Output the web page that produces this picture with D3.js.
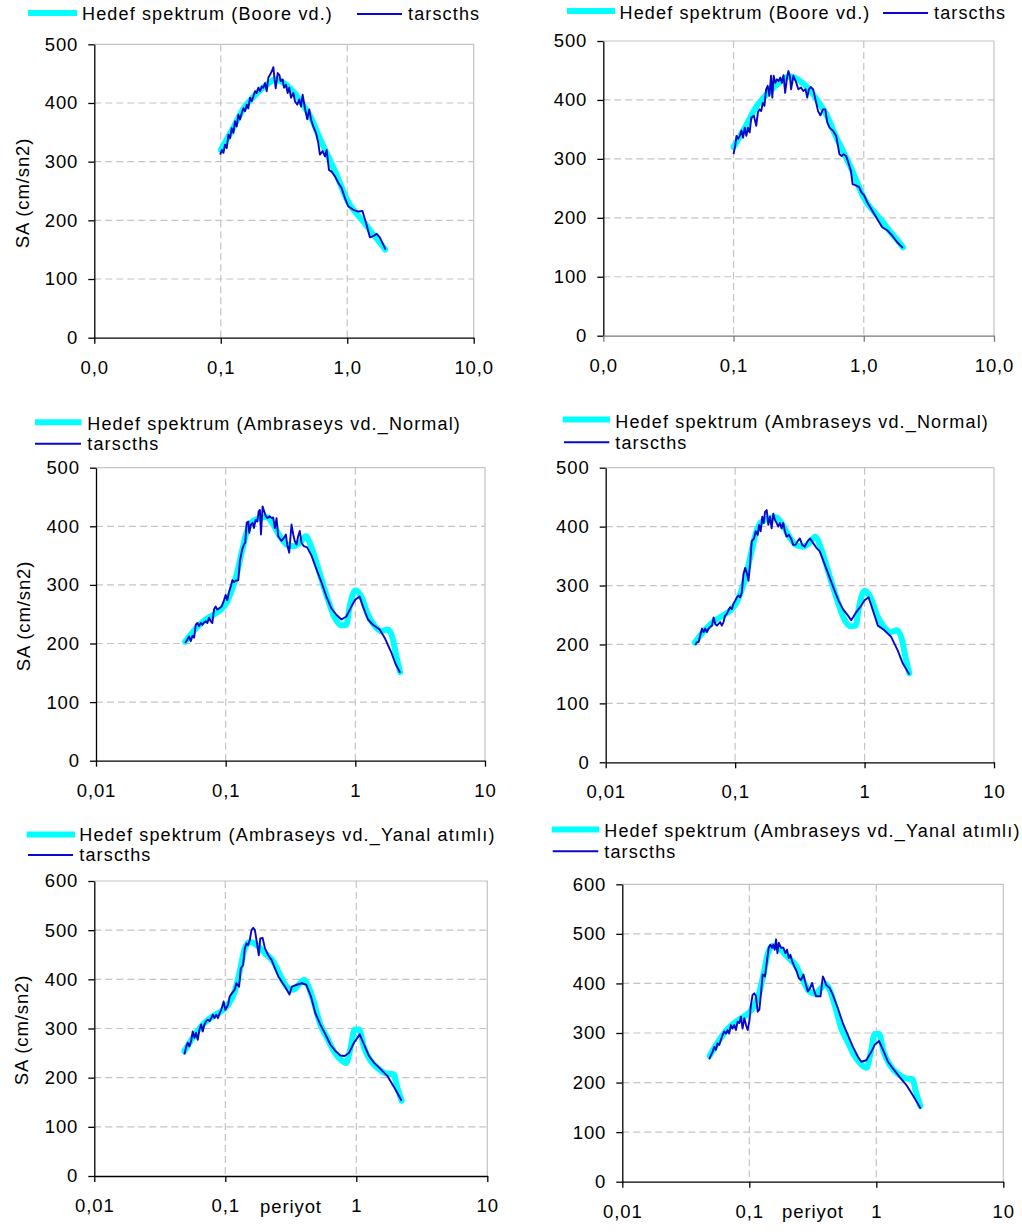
<!DOCTYPE html>
<html>
<head>
<meta charset="utf-8">
<script src="https://cdn.jsdelivr.net/npm/d3@7"></script>
<style>
  html, body { margin: 0; padding: 0; background: #fff; }
  svg text { font-family: "Liberation Sans", Arial, sans-serif; fill: #000; }
</style>
</head>
<body>
<svg id="chart" width="1022" height="1232"></svg>
<script>
// ---- Tick labels ----
const xTickValues = [0.01, 0.1, 1, 10];
const xLabelsDecimal = ["0,0", "0,1", "1,0", "10,0"];
const xLabelsPlain = ["0,01", "0,1", "1", "10"];
const yTicks500 = [0, 100, 200, 300, 400, 500];
const yTicks600 = [0, 100, 200, 300, 400, 500, 600];

// ---- Series names ----
const targetBoore = "Hedef spektrum (Boore vd.)";
const targetNormal = "Hedef spektrum (Ambraseys vd._Normal)";
const targetYanal = "Hedef spektrum (Ambraseys vd._Yanal atımlı)";
const recordName = "tarscths";

// ---- Target spectra (period s, SA cm/sn2) ----
const booreT = [0.1, 0.12, 0.15, 0.19, 0.23, 0.27, 0.32, 0.38, 0.45, 0.52, 0.6, 0.7, 0.8, 0.9, 1.0, 1.2, 1.4, 1.6, 1.8, 2.0];
const booreSA = [320, 350, 389, 415, 431, 440, 433, 418, 396, 374, 342, 311, 284, 257, 234, 210, 193, 176, 163, 150];

const normalT = [0.0487, 0.0564, 0.0673, 0.0804, 0.0931, 0.1018, 0.1112, 0.1216, 0.1328, 0.1452, 0.1585, 0.1837, 0.2066, 0.2326, 0.2618, 0.2945, 0.332, 0.3733, 0.415, 0.459, 0.532, 0.617, 0.693, 0.78, 0.853, 0.904, 1.0, 1.112, 1.251, 1.408, 1.585, 1.783, 1.95, 2.067, 2.218];
const normalSA = [203, 221, 238, 249, 259, 270, 290, 318, 355, 390, 407, 414, 416, 403, 383, 369, 366, 372, 383, 364, 319, 274, 244, 231, 232, 263, 291, 280, 249, 230, 221, 224, 207, 179, 151];

const yanalT = [0.0487, 0.0564, 0.0673, 0.0804, 0.0931, 0.105, 0.118, 0.1288, 0.1409, 0.1538, 0.173, 0.2008, 0.2326, 0.2618, 0.2945, 0.332, 0.3625, 0.401, 0.4325, 0.472, 0.532, 0.598, 0.673, 0.757, 0.837, 0.904, 0.971, 1.049, 1.146, 1.289, 1.494, 1.731, 1.927, 2.043, 2.218];
const yanalSA = [254, 281, 308, 325, 335, 348, 375, 416, 463, 476, 470, 453, 436, 409, 385, 379, 389, 399, 385, 355, 308, 281, 254, 237, 230, 261, 298, 298, 261, 234, 217, 208, 207, 183, 153];

// ---- Record spectra (tarscths) ----
const rec1T = [0.099,0.102,0.105,0.108,0.1115,0.115,0.1185,0.122,0.126,0.1297,0.1337,0.1377,0.142,0.1465,0.151,0.1556,0.1604,0.165,0.1705,0.1757,0.181,0.1866,0.1923,0.198,0.2045,0.211,0.217,0.224,0.231,0.2377,0.245,0.253,0.2606,0.2654,0.2718,0.2818,0.2904,0.2977,0.3085,0.316,0.328,0.338,0.348,0.359,0.375,0.386,0.403,0.418,0.431,0.444,0.463,0.483,0.501,0.517,0.539,0.566,0.59,0.608,0.638,0.667,0.687,0.717,0.752,0.8,0.849,0.902,0.959,1.018,1.115,1.22,1.32,1.42,1.51,1.6,1.71,1.81,2.01];
const rec1SA = [312,320,315,329,323,346,340,357,349,369,360,380,372,383,391,386,397,391,409,403,411,420,417,426,420,428,426,434,420,443,448,454,461,443,425,451,448,437,440,426,431,417,426,409,417,403,397,406,394,414,391,372,389,372,360,349,332,312,318,309,320,286,283,275,264,255,238,224,218,215,216,193,171,173,177,171,150];

const rec2T = [0.1,0.1029,0.1054,0.1085,0.1117,0.115,0.1184,0.1219,0.1254,0.1291,0.133,0.1369,0.1434,0.1494,0.1538,0.1583,0.163,0.1678,0.1727,0.1778,0.183,0.1885,0.194,0.1986,0.2033,0.2093,0.2154,0.2218,0.2284,0.235,0.2419,0.2491,0.2564,0.264,0.2718,0.2766,0.2881,0.3001,0.3144,0.3294,0.3431,0.3573,0.3679,0.3788,0.3922,0.4083,0.4253,0.4457,0.4642,0.4863,0.5065,0.5244,0.5462,0.579,0.6137,0.6502,0.6773,0.7014,0.7305,0.7608,0.797,0.8206,0.8697,0.9218,0.96,1.006,1.066,1.163,1.269,1.385,1.511,1.649,1.799,1.998];
const rec2SA = [308,322,339,334,339,348,336,353,339,353,345,370,373,356,379,384,381,395,390,418,424,407,441,404,441,429,435,432,438,429,442,412,435,449,439,418,441,432,418,421,415,418,404,418,422,418,401,381,374,384,384,362,353,348,339,308,305,308,305,294,280,257,255,252,243,238,226,212,198,184,179,170,159,149];

const rec3T = [0.0487,0.0507,0.0522,0.0538,0.0555,0.0571,0.0588,0.0605,0.0624,0.0643,0.0662,0.0682,0.0702,0.0723,0.0744,0.0767,0.0789,0.0813,0.0837,0.0862,0.0893,0.0931,0.0971,0.1,0.103,0.1061,0.1093,0.1126,0.1159,0.1194,0.1251,0.1288,0.1343,0.1383,0.1416,0.1452,0.1495,0.1521,0.1567,0.1614,0.1652,0.1702,0.1754,0.1795,0.1837,0.1871,0.1927,0.1984,0.2043,0.2104,0.2192,0.2258,0.2326,0.2396,0.2468,0.2541,0.2697,0.2811,0.2913,0.298,0.309,0.322,0.332,0.341,0.352,0.362,0.373,0.384,0.401,0.425,0.459,0.501,0.547,0.598,0.653,0.714,0.78,0.853,0.932,1.0,1.079,1.146,1.251,1.368,1.539,1.682,1.892,2.043,2.218];
const rec3SA = [201,207,212,204,213,210,232,235,230,235,232,236,238,235,244,238,235,258,263,258,260,263,274,283,274,288,297,308,305,307,308,341,361,369,372,406,408,389,403,406,397,411,408,425,428,386,434,425,417,414,417,414,415,397,414,383,375,380,386,369,355,403,386,375,369,383,392,372,366,364,350,327,305,280,260,249,241,246,263,275,280,263,241,232,224,210,185,165,150];

const rec4T = [0.0492,0.0507,0.0522,0.0538,0.0555,0.0571,0.0588,0.0605,0.0624,0.0643,0.0662,0.0682,0.0702,0.0723,0.0744,0.0767,0.0789,0.0813,0.0837,0.0862,0.0888,0.0915,0.0943,0.0971,0.1,0.103,0.1061,0.1093,0.1126,0.1159,0.1194,0.123,0.1268,0.1304,0.1343,0.14,0.1442,0.1494,0.1531,0.1575,0.1622,0.1663,0.1702,0.1754,0.1805,0.1859,0.1914,0.1972,0.2031,0.2093,0.2154,0.2218,0.2285,0.2355,0.2426,0.2495,0.2602,0.27,0.2811,0.293,0.3034,0.3162,0.3296,0.3452,0.3622,0.3793,0.4009,0.4246,0.4508,0.4921,0.5383,0.5875,0.631,0.681,0.745,0.789,0.863,0.943,1.0,1.074,1.159,1.267,1.426,1.604,1.803,1.972,2.218];
const rec4SA = [199,204,204,216,227,221,227,221,227,230,232,246,235,232,235,238,232,238,249,252,258,263,260,269,274,280,283,280,288,319,330,322,308,336,375,380,392,386,403,392,417,406,425,428,403,417,397,422,411,406,400,406,397,406,392,383,386,380,369,369,375,380,369,366,375,380,372,364,358,336,313,291,274,260,249,241,255,266,275,280,258,232,224,213,190,168,149];

const rec5T = [0.0487,0.0501,0.0516,0.0532,0.0548,0.0564,0.0581,0.0598,0.0616,0.0635,0.0654,0.0673,0.0693,0.0714,0.0736,0.0758,0.078,0.0804,0.0828,0.0853,0.0879,0.0905,0.0932,0.0971,0.1,0.105,0.108,0.1125,0.118,0.1216,0.1274,0.1312,0.1367,0.1409,0.1452,0.1495,0.1538,0.1585,0.1633,0.1683,0.173,0.1803,0.1848,0.1927,0.2008,0.2129,0.2258,0.2396,0.2541,0.2697,0.2858,0.309,0.322,0.3516,0.3842,0.415,0.451,0.487,0.532,0.581,0.635,0.694,0.757,0.813,0.878,0.96,1.062,1.146,1.251,1.368,1.539,1.731,1.95,2.218];
const rec5SA = [247,261,271,264,274,294,281,291,277,298,308,294,308,315,318,315,321,328,321,328,321,331,338,355,338,348,365,372,379,392,385,422,429,463,473,470,480,500,505,500,480,449,483,484,463,449,439,422,406,395,385,369,385,389,392,389,365,331,308,288,267,254,245,244,250,271,288,267,244,230,217,203,180,153];

const rec6T = [0.0483,0.0498,0.0514,0.053,0.0546,0.0562,0.058,0.0597,0.0616,0.0635,0.0654,0.0675,0.0695,0.0716,0.0738,0.0761,0.0785,0.0809,0.0834,0.0859,0.0885,0.0914,0.0942,0.0971,0.1,0.103,0.1062,0.1094,0.1129,0.1164,0.12,0.1236,0.1274,0.1329,0.1377,0.1422,0.1466,0.151,0.1546,0.1585,0.1624,0.1665,0.1706,0.1778,0.1855,0.1924,0.1983,0.2045,0.2107,0.2172,0.2266,0.2364,0.245,0.2557,0.2668,0.2768,0.289,0.3015,0.3126,0.3222,0.336,0.3505,0.3637,0.3793,0.3908,0.4027,0.4281,0.455,0.4977,0.5452,0.5964,0.6546,0.7168,0.7616,0.8337,0.9137,0.9704,1.0496,1.13,1.236,1.355,1.528,1.726,1.945,2.239];
const rec6SA = [247,255,262,272,266,279,276,286,296,303,299,306,299,316,309,316,306,323,320,333,309,330,316,306,323,357,377,380,374,343,347,380,418,414,445,472,478,472,478,468,489,461,482,472,472,461,468,451,458,445,434,424,411,407,418,401,384,391,401,387,374,374,374,414,407,397,391,377,350,320,296,272,252,242,245,262,276,284,266,242,228,211,195,174,147];

// ---- Styling ----
const TARGET_COLOR = "#00FFFF";
const RECORD_COLOR = "#0808CC";
const GRID_COLOR = "#C4C4C4";
const FONT_SIZE = "18.5px";
const LETTER_SP = "0.9px";
const LEGEND_FONT_SIZE = "18px";
const LEGEND_LETTER_SP = "1.15px";

const svg = d3.select("#chart");

const pairs = (xs, ys) => d3.zip(xs, ys);

// Panel layout: plot rectangle, axis titles, legend placement
const panels = [
  { left: 94.3, right: 473.7, top: 44.3, bottom: 337.7, yTicks: yTicks500, xLabels: xLabelsDecimal,
    target: pairs(booreT, booreSA), record: pairs(rec1T, rec1SA), targetName: targetBoore,
    yTitle: { x: 22, y: 193 }, xTitle: null, xAxisColor: "#000",
    legend: { l1: [28, 77, 13], t1: [82, 20], l2: [357, 402, 14], t2: [408, 20] } },
  { left: 603.3, right: 994, top: 41, bottom: 335.7, yTicks: yTicks500, xLabels: xLabelsDecimal,
    target: pairs(booreT, booreSA), record: pairs(rec2T, rec2SA), targetName: targetBoore,
    yTitle: null, xTitle: null, xAxisColor: "#7a7a7a",
    legend: { l1: [567, 615, 11], t1: [619.5, 19], l2: [883, 928, 13], t2: [934, 19] } },
  { left: 96, right: 485, top: 467.7, bottom: 760.7, yTicks: yTicks500, xLabels: xLabelsPlain,
    target: pairs(normalT, normalSA), record: pairs(rec3T, rec3SA), targetName: targetNormal,
    yTitle: { x: 23, y: 616 }, xTitle: null, xAxisColor: "#000",
    legend: { l1: [35, 81.5, 422.2], t1: [87.3, 429.5], l2: [35, 81, 443.8], t2: [87.3, 450.3] } },
  { left: 605.7, right: 994, top: 467.7, bottom: 762.3, yTicks: yTicks500, xLabels: xLabelsPlain,
    target: pairs(normalT, normalSA), record: pairs(rec4T, rec4SA), targetName: targetNormal,
    yTitle: null, xTitle: null, xAxisColor: "#000",
    legend: { l1: [562.7, 610, 419.5], t1: [615.3, 427.8], l2: [564, 609.3, 442.2], t2: [615.3, 448.5] } },
  { left: 94.3, right: 487.3, top: 881, bottom: 1176, yTicks: yTicks600, xLabels: xLabelsPlain,
    target: pairs(yanalT, yanalSA), record: pairs(rec5T, rec5SA), targetName: targetYanal,
    yTitle: { x: 21, y: 1030 }, xTitle: { x: 291, y: 1213 }, xAxisColor: "#000",
    legend: { l1: [26.7, 75, 834.5], t1: [79.3, 841.2], l2: [28, 73, 855], t2: [79.3, 861.3] } },
  { left: 622.3, right: 1003.3, top: 884.3, bottom: 1181.7, yTicks: yTicks600, xLabels: xLabelsPlain,
    target: pairs(yanalT, yanalSA), record: pairs(rec6T, rec6SA), targetName: targetYanal,
    yTitle: null, xTitle: { x: 813, y: 1218 }, xAxisColor: "#000",
    legend: { l1: [551.7, 599.3, 829.5], t1: [604.3, 837.2], l2: [552.7, 598.3, 851.3], t2: [604.3, 857.8] } }
];

function styleText(sel) {
  sel.style("font-size", FONT_SIZE).style("letter-spacing", LETTER_SP).attr("fill", "#000");
}
function styleLegendText(sel) {
  sel.style("font-size", LEGEND_FONT_SIZE).style("letter-spacing", LEGEND_LETTER_SP).attr("fill", "#000");
}

function drawPanel(p) {
  const g = svg.append("g");
  const yMax = d3.max(p.yTicks);
  const x = d3.scaleLog().domain([0.01, 10]).range([p.left, p.right]);
  const y = d3.scaleLinear().domain([0, yMax]).range([p.bottom, p.top]);

  // dashed grid
  const grid = g.append("g");
  grid.selectAll("line.h").data(p.yTicks.filter(v => v > 0 && v < yMax)).join("line")
    .attr("x1", p.left).attr("x2", p.right)
    .attr("y1", d => y(d)).attr("y2", d => y(d))
    .attr("stroke", GRID_COLOR).attr("stroke-width", 1.2).attr("stroke-dasharray", "7,4");
  grid.selectAll("line.v").data(xTickValues.filter(v => v > 0.01 && v < 10)).join("line")
    .attr("x1", d => x(d)).attr("x2", d => x(d))
    .attr("y1", p.top).attr("y2", p.bottom)
    .attr("stroke", GRID_COLOR).attr("stroke-width", 1.2).attr("stroke-dasharray", "7,4");

  // plot area frame (top and right)
  g.append("path")
    .attr("d", `M${p.left},${y(yMax)}H${x(10)}V${p.bottom}`)
    .attr("fill", "none").attr("stroke", GRID_COLOR).attr("stroke-width", 1.2);

  // series: smooth target spectrum under the record spectrum
  g.append("path").datum(p.target)
    .attr("d", d3.line().x(d => x(d[0])).y(d => y(d[1])).curve(d3.curveMonotoneX))
    .attr("fill", "none").attr("stroke", TARGET_COLOR).attr("stroke-width", 6)
    .attr("stroke-linecap", "round").attr("stroke-linejoin", "round");
  g.append("path").datum(p.record)
    .attr("d", d3.line().x(d => x(d[0])).y(d => y(d[1])))
    .attr("fill", "none").attr("stroke", RECORD_COLOR).attr("stroke-width", 1.9)
    .attr("stroke-linejoin", "round");

  // axes
  const yAxis = g.append("g").attr("transform", `translate(${p.left},0)`)
    .call(d3.axisLeft(y).tickValues(p.yTicks).tickFormat(d3.format("d"))
      .tickSize(6).tickSizeOuter(0).tickPadding(10));
  yAxis.selectAll("path, line").attr("stroke", "#000").attr("stroke-width", 1.3);
  yAxis.selectAll("text").call(styleText);

  const xAxis = g.append("g").attr("transform", `translate(0,${p.bottom})`)
    .call(d3.axisBottom(x).tickValues(xTickValues)
      .tickFormat((d, i) => p.xLabels[i]).tickSize(6).tickSizeOuter(0).tickPadding(17));
  xAxis.selectAll("path, line").attr("stroke", p.xAxisColor).attr("stroke-width", 1.3);
  xAxis.selectAll("text").call(styleText);

  if (p.yTitle) {
    g.append("text")
      .attr("transform", `translate(${p.yTitle.x},${p.yTitle.y}) rotate(-90)`)
      .attr("text-anchor", "middle").attr("dominant-baseline", "central")
      .text("SA (cm/sn2)").call(styleText);
  }
  if (p.xTitle) {
    g.append("text").attr("x", p.xTitle.x).attr("y", p.xTitle.y)
      .attr("text-anchor", "middle").text("periyot").call(styleText);
  }

  // legend
  const L = p.legend;
  g.append("line").attr("x1", L.l1[0]).attr("x2", L.l1[1]).attr("y1", L.l1[2]).attr("y2", L.l1[2])
    .attr("stroke", TARGET_COLOR).attr("stroke-width", 6);
  g.append("text").attr("x", L.t1[0]).attr("y", L.t1[1]).text(p.targetName).call(styleLegendText);
  g.append("line").attr("x1", L.l2[0]).attr("x2", L.l2[1]).attr("y1", L.l2[2]).attr("y2", L.l2[2])
    .attr("stroke", RECORD_COLOR).attr("stroke-width", 2);
  g.append("text").attr("x", L.t2[0]).attr("y", L.t2[1]).text(recordName).call(styleLegendText);
}

panels.forEach(drawPanel);
</script>
</body>
</html>
